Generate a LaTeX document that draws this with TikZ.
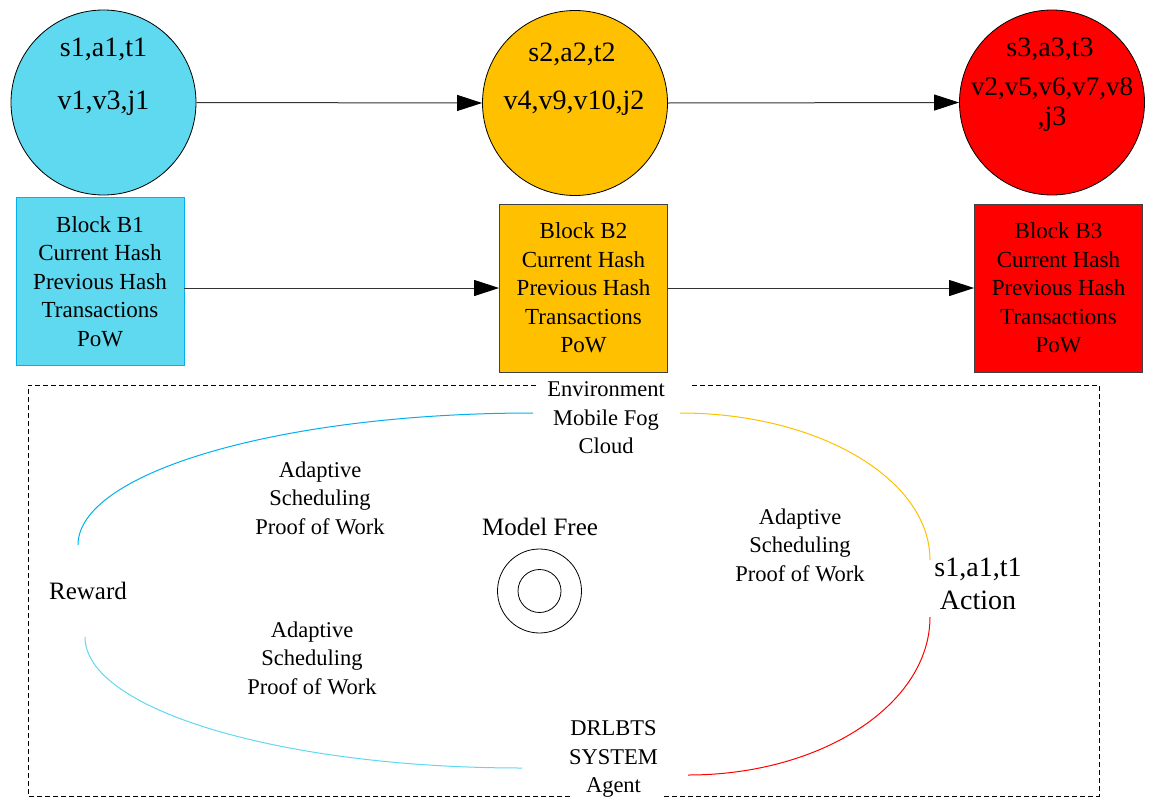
\documentclass[tikz,border=0pt]{standalone}
\usepackage{fontspec}
\setmainfont{Liberation Serif}
\usetikzlibrary{arrows.meta}
\definecolor{cyanfill}{RGB}{95,217,239}
\definecolor{cyanedge}{RGB}{0,176,240}
\definecolor{orangefill}{RGB}{255,192,0}
\definecolor{redfill}{RGB}{255,0,0}
\definecolor{arcblue}{RGB}{0,176,240}
\definecolor{arccyan}{RGB}{95,217,239}
\definecolor{arcorange}{RGB}{255,192,0}
\definecolor{arcred}{RGB}{255,0,0}
\tikzset{
  statecirc/.style={circle, draw=black, line width=0.8pt, minimum size=185pt, inner sep=0pt},
  blockbox/.style={rectangle, line width=0.9pt, minimum width=168pt, minimum height=168pt, inner sep=0pt, align=center, font=\fontsize{23}{28.5}\selectfont},
  bigtxt/.style={font=\fontsize{28}{33}\selectfont, align=center, inner sep=0pt},
  midtxt/.style={font=\fontsize{25}{30}\selectfont, align=center, inner sep=0pt},
  smalltxt/.style={font=\fontsize{22.5}{28.5}\selectfont, align=center, inner sep=0pt},
  chainarrow/.style={draw=black!80, line width=1pt, -{Triangle[length=25pt,width=16pt,black]}},
  cyclearc/.style={line width=1pt},
  dashframe/.style={draw=black, line width=1pt, dash pattern=on 5pt off 3pt},
  ringnode/.style={circle, draw=black, line width=0.8pt, inner sep=0pt},
}
\begin{document}
\begin{tikzpicture}[x=1pt, y=-1pt]
\useasboundingbox (0,0) rectangle (1149,798);

% state circles
\node[statecirc, fill=cyanfill] (c1) at (103.5,102.5) {};
\node[statecirc, fill=orangefill] (c2) at (575,103) {};
\node[statecirc, fill=redfill] (c3) at (1052,102.5) {};

\node[bigtxt] (c1a) at (103.5,49) {s1,a1,t1};
\node[bigtxt] (c1b) at (103.5,103) {v1,v3,j1};
\node[bigtxt] (c2a) at (572,54) {s2,a2,t2};
\node[bigtxt] (c2b) at (574,103) {v4,v9,v10,j2};
\node[bigtxt] (c3a) at (1050,49) {s3,a3,t3};
\node[font=\fontsize{27}{32}\selectfont, inner sep=0pt] (c3b) at (1052,89) {v2,v5,v6,v7,v8};
\node[bigtxt] (c3c) at (1052,119) {,j3};

\draw[chainarrow] (c1.east) -- (c2.west);
\draw[chainarrow] (c2.east) -- (c3.west);

% blocks
\node[blockbox, fill=cyanfill, draw=cyanedge] (b1) at (100,281.5)
  {Block B1\\Current Hash\\Previous Hash\\Transactions\\PoW};
\node[blockbox, fill=orangefill, draw=black!75] (b2) at (583.5,288)
  {Block B2\\Current Hash\\Previous Hash\\Transactions\\PoW};
\node[blockbox, fill=redfill, draw=black!75] (b3) at (1058.5,288)
  {Block B3\\Current Hash\\Previous Hash\\Transactions\\PoW};

\draw[chainarrow] (b1.east |- b2.west) -- (b2.west);
\draw[chainarrow] (b2.east) -- (b3.west);

% dashed frame with gaps
\draw[dashframe] (536,385) -- (28,385) -- (28,796) -- (571,796);
\draw[dashframe] (692,385) -- (1099,385) -- (1099,796) -- (662,796);

% labels in the cycle
\node[smalltxt] (env) at (606,418) {Environment\\Mobile Fog\\Cloud};
\node[smalltxt] (agent) at (613.5,759) {DRLBTS\\SYSTEM\\Agent};
\node[midtxt] (reward) at (88,591) {Reward};
\node[bigtxt] (action) at (978,584) {s1,a1,t1\\Action};
\node[midtxt] (model) at (540,527) {Model Free};
\node[smalltxt] (ad1) at (320,498) {Adaptive\\Scheduling\\Proof of Work};
\node[smalltxt] (ad2) at (312,658) {Adaptive\\Scheduling\\Proof of Work};
\node[smalltxt] (ad3) at (800,545) {Adaptive\\Scheduling\\Proof of Work};

\node[ringnode, minimum size=84pt] (ringout) at (539.5,591) {};
\node[ringnode, minimum size=43pt] (ringin) at (ringout) {};

% cycle arcs
\coordinate (envL) at (533,413);
\coordinate (envR) at (680,413);
\coordinate (rewT) at (78,545);
\coordinate (rewB) at (85,637);
\coordinate (actT) at (930,560);
\coordinate (actB) at (930,617);
\coordinate (agL) at (522,768);
\coordinate (agR) at (688,775);

\draw[cyclearc, arcblue] (envL) .. controls (281.7,413) and (78,472.1) .. (rewT);
\draw[cyclearc, arcorange] (envR) .. controls (818.1,413) and (930,478.8) .. (actT);
\draw[cyclearc, arcred] (actB) .. controls (930,704.3) and (821.7,775) .. (agR);
\draw[cyclearc, arccyan] (rewB) .. controls (85,709.4) and (280.6,768) .. (agL);
\end{tikzpicture}
\end{document}
